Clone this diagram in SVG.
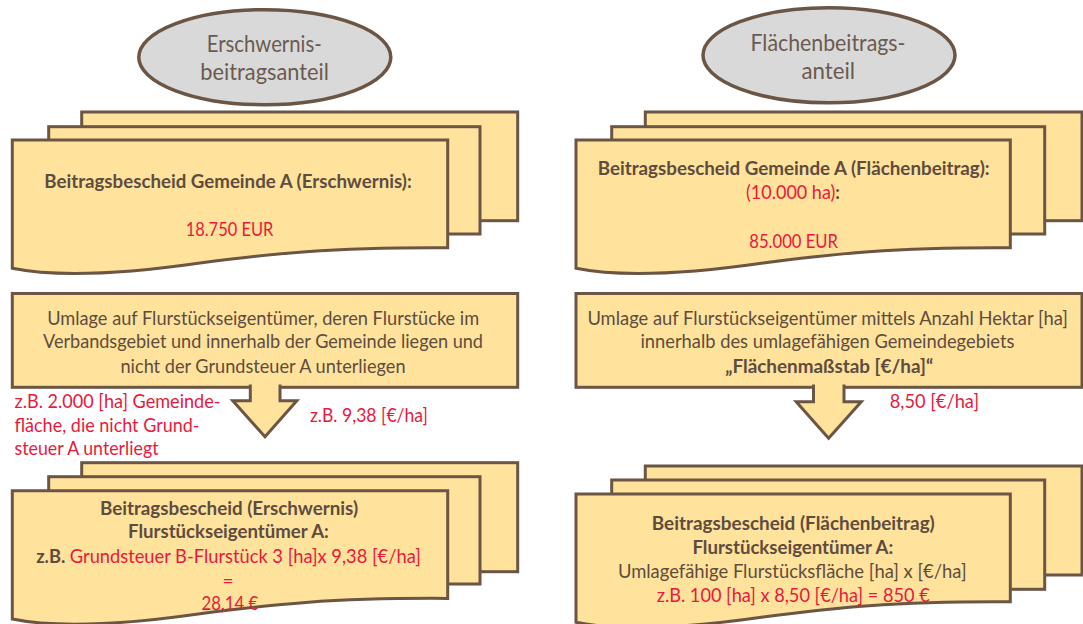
<svg xmlns="http://www.w3.org/2000/svg" width="1083" height="624" viewBox="0 0 1083 624">
  <style>
    .sheet { fill: #FFE29C; stroke: #6B5544; stroke-width: 3; stroke-linejoin: miter; }
    .oval { fill: #D9D9D9; stroke: #6B5544; stroke-width: 3.5; }
    text { font-family: Lato, "Open Sans", "DejaVu Sans", sans-serif; font-size: 19px; fill: #5E4C3E; }
    .title { font-size: 24px; fill: #6A5A50; text-anchor: middle; }
    .b { font-weight: bold; }
    .red { fill: #E8193C; }
  </style>
  <defs>
    <!-- front sheet of a document stack, wavy bottom edge -->
    <path id="frontSheet" d="M0,0 H435.4 V107.7 C317.7,107 257.7,114 187.7,123 C117.7,133 47.7,138 0,128.3 Z"/>
  </defs>

  <rect width="1083" height="624" fill="#FFFFFF"/>

  <!-- header ovals -->
  <g id="oval-erschwernis">
    <ellipse class="oval" cx="264.8" cy="57.2" rx="126" ry="47.5"/>
    <text class="title" x="264.3" y="52" textLength="115" lengthAdjust="spacingAndGlyphs">Erschwernis-</text>
    <text class="title" x="264.6" y="80" textLength="128.5" lengthAdjust="spacingAndGlyphs">beitragsanteil</text>
  </g>
  <g id="oval-flaeche">
    <ellipse class="oval" cx="829" cy="55.3" rx="126" ry="47.5"/>
    <text class="title" x="828" y="51" textLength="155" lengthAdjust="spacingAndGlyphs">Flächenbeitrags-</text>
    <text class="title" x="828.2" y="78.5" textLength="53.6" lengthAdjust="spacingAndGlyphs">anteil</text>
  </g>

  <!-- municipality notices -->
  <g id="bescheid-gemeinde-erschwernis">
    <rect class="sheet" x="81.7" y="112" width="436" height="108.7"/>
    <rect class="sheet" x="48.7" y="126.7" width="431.3" height="107.3"/>
    <use href="#frontSheet" class="sheet" transform="translate(12.3,140)"/>
    <text class="b" x="44.3" y="187.7" textLength="367.4" lengthAdjust="spacingAndGlyphs">Beitragsbescheid Gemeinde A (Erschwernis):</text>
    <text class="red" x="185.7" y="236" textLength="87.6" lengthAdjust="spacingAndGlyphs">18.750 EUR</text>
  </g>
  <g id="bescheid-gemeinde-flaeche">
    <rect class="sheet" x="645.3" y="112" width="436.7" height="108.7"/>
    <rect class="sheet" x="611.7" y="126.7" width="433" height="107.3"/>
    <use href="#frontSheet" class="sheet" transform="translate(576,140) scale(0.9975,1)"/>
    <text class="b" x="597.7" y="175" textLength="392" lengthAdjust="spacingAndGlyphs">Beitragsbescheid Gemeinde A (Flächenbeitrag):</text>
    <text x="746" y="199.3" textLength="94" lengthAdjust="spacingAndGlyphs"><tspan class="red">(10.000 ha)</tspan><tspan class="b">:</tspan></text>
    <text class="red" x="749.3" y="247.7" textLength="88.7" lengthAdjust="spacingAndGlyphs">85.000 EUR</text>
  </g>

  <!-- apportionment rules -->
  <g id="umlage-erschwernis">
    <rect class="sheet" x="12.3" y="293.5" width="505.4" height="93.8"/>
    <text x="47.2" y="325" textLength="432" lengthAdjust="spacingAndGlyphs">Umlage auf Flurstückseigentümer, deren Flurstücke im</text>
    <text x="43" y="348.3" textLength="440" lengthAdjust="spacingAndGlyphs">Verbandsgebiet und innerhalb der Gemeinde liegen und</text>
    <text x="120.5" y="372.7" textLength="285" lengthAdjust="spacingAndGlyphs">nicht der Grundsteuer A unterliegen</text>
  </g>
  <g id="umlage-flaeche">
    <rect class="sheet" x="576" y="293.5" width="506" height="93.8"/>
    <text x="587.4" y="325" textLength="480.6" lengthAdjust="spacingAndGlyphs">Umlage auf Flurstückseigentümer mittels Anzahl Hektar [ha]</text>
    <text x="640.4" y="348.3" textLength="374" lengthAdjust="spacingAndGlyphs">innerhalb des umlagefähigen Gemeindegebiets</text>
    <text class="b" x="725.2" y="372.7" textLength="208" lengthAdjust="spacingAndGlyphs">„Flächenmaßstab [€/ha]“</text>
  </g>

  <!-- block arrows, open at the top so they merge into the boxes -->
  <g id="connectors">
    <path class="sheet" d="M250.3,384.5 V400.7 H232.8 L265,436.7 L296.8,400.7 H280 V384.5"/>
    <path class="sheet" d="M813.5,384.5 V401.7 H796.2 L828.6,438.3 L861.3,401.7 H844 V384.5"/>
  </g>

  <!-- owner notices -->
  <g id="bescheid-eigentuemer-erschwernis">
    <rect class="sheet" x="81.7" y="462.7" width="436" height="109"/>
    <rect class="sheet" x="48.7" y="476.7" width="431.3" height="107.3"/>
    <use href="#frontSheet" class="sheet" transform="translate(12.3,490.7)"/>
    <text class="b" x="99.9" y="515" textLength="258.2" lengthAdjust="spacingAndGlyphs">Beitragsbescheid (Erschwernis)</text>
    <text class="b" x="128.1" y="538.3" textLength="200.8" lengthAdjust="spacingAndGlyphs">Flurstückseigentümer A:</text>
    <text x="36.2" y="562.7" textLength="384.6" lengthAdjust="spacingAndGlyphs"><tspan class="b">z.B. </tspan><tspan class="red">Grundsteuer B-Flurstück 3 [ha]x 9,38 [€/ha]</tspan></text>
    <text class="red" x="228" y="587.5" text-anchor="middle">=</text>
    <text class="red" x="201.4" y="610.3" textLength="57" lengthAdjust="spacingAndGlyphs">28,14 €</text>
  </g>
  <g id="bescheid-eigentuemer-flaeche">
    <rect class="sheet" x="645.3" y="466" width="436.7" height="109"/>
    <rect class="sheet" x="611.7" y="480" width="433" height="109.3"/>
    <use href="#frontSheet" class="sheet" transform="translate(576,494) scale(0.9975,1)"/>
    <text class="b" x="651.8" y="530" textLength="283" lengthAdjust="spacingAndGlyphs">Beitragsbescheid (Flächenbeitrag)</text>
    <text class="b" x="692.4" y="554" textLength="200.8" lengthAdjust="spacingAndGlyphs">Flurstückseigentümer A:</text>
    <text x="617.9" y="577.7" textLength="348.7" lengthAdjust="spacingAndGlyphs">Umlagefähige Flurstücksfläche [ha] x [€/ha]</text>
    <text class="red" x="656.7" y="602" textLength="273" lengthAdjust="spacingAndGlyphs">z.B. 100 [ha] x 8,50 [€/ha] = 850 €</text>
  </g>

  <!-- side notes on the arrows -->
  <g id="notes">
    <text class="red" x="14.5" y="408.3" textLength="206" lengthAdjust="spacingAndGlyphs">z.B. 2.000 [ha] Gemeinde-</text>
    <text class="red" x="14.5" y="431.7" textLength="185" lengthAdjust="spacingAndGlyphs">fläche, die nicht Grund-</text>
    <text class="red" x="14.5" y="455" textLength="144" lengthAdjust="spacingAndGlyphs">steuer A unterliegt</text>
    <text class="red" x="309.9" y="421.7" textLength="118" lengthAdjust="spacingAndGlyphs">z.B. 9,38 [€/ha]</text>
    <text class="red" x="889.7" y="408.3" textLength="89.3" lengthAdjust="spacingAndGlyphs">8,50 [€/ha]</text>
  </g>
</svg>
